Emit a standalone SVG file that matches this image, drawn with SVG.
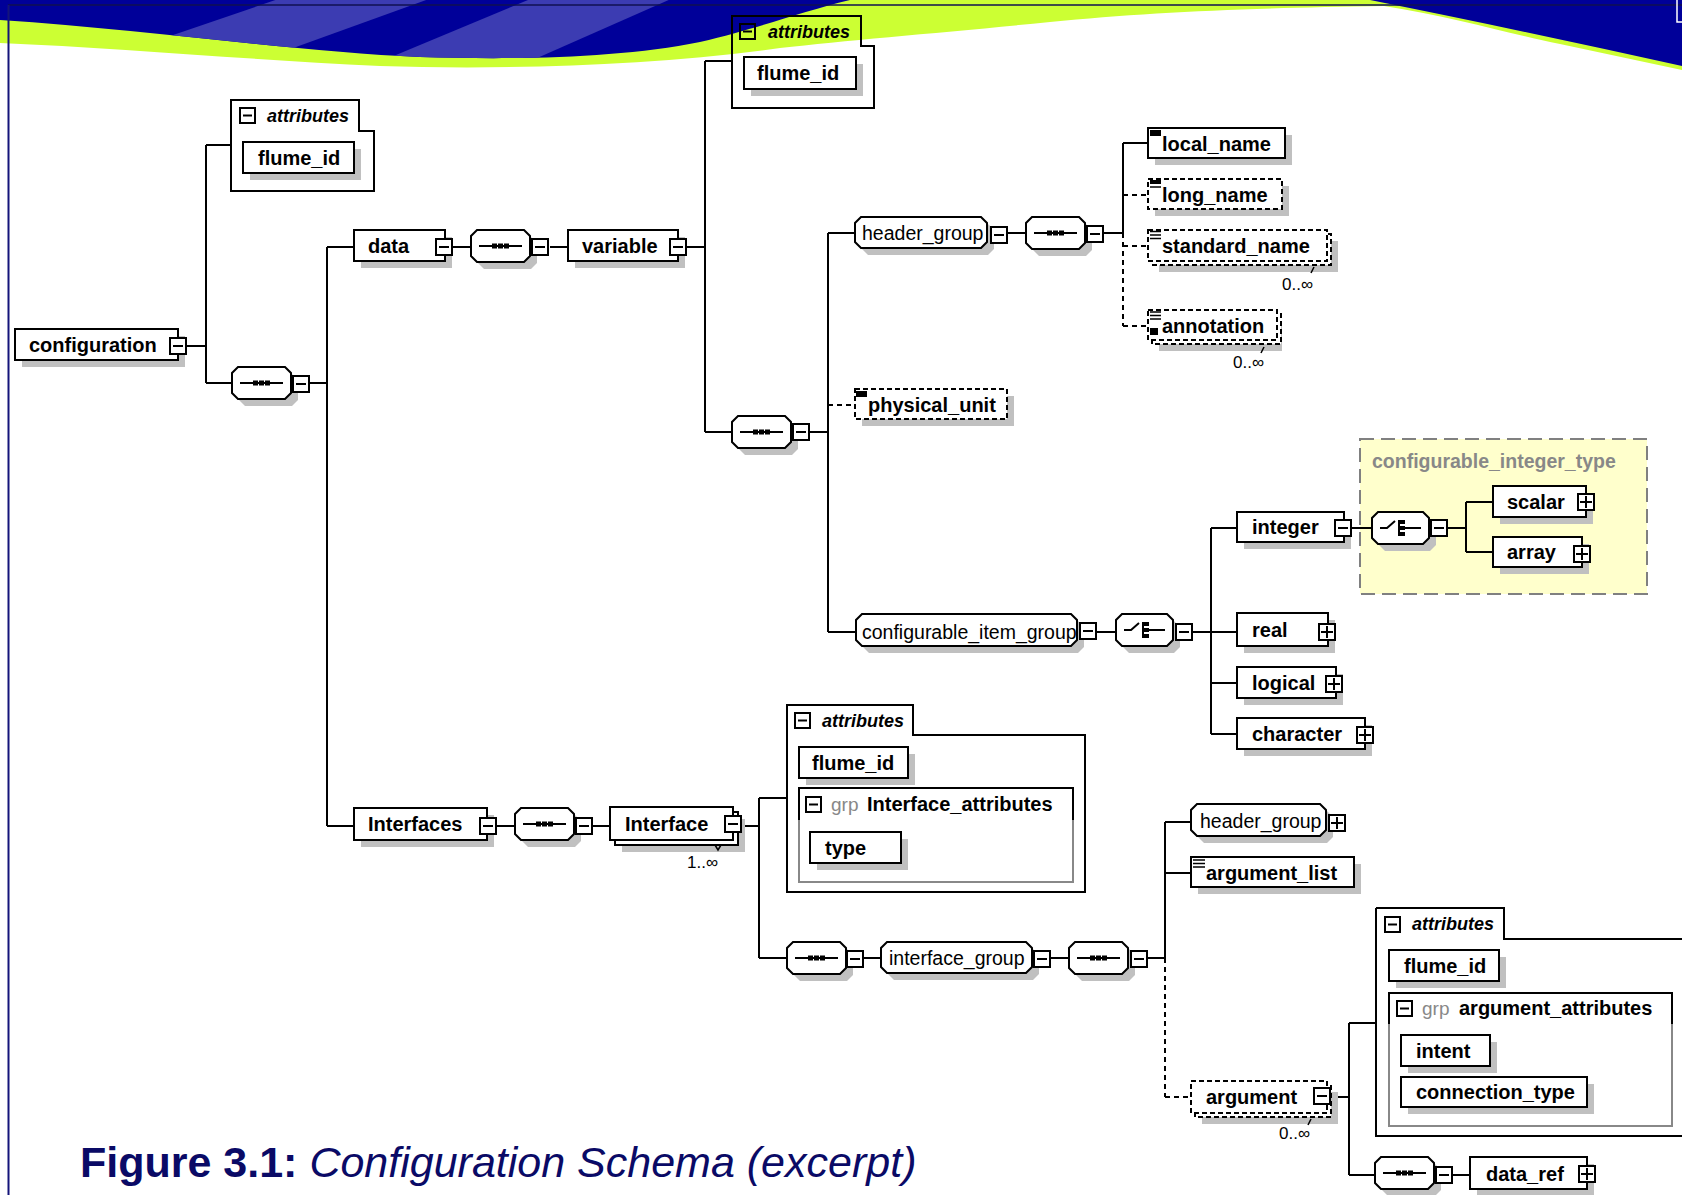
<svg xmlns="http://www.w3.org/2000/svg" xmlns:xlink="http://www.w3.org/1999/xlink" width="1682" height="1195" viewBox="0 0 1682 1195">
<style>
.box{fill:#fff;stroke:#000;stroke-width:2}
.dbox{fill:#fff;stroke:#000;stroke-width:2;stroke-dasharray:5,3}
.sh{fill:#c0c0c0}
.ln{stroke:#000;stroke-width:2;fill:none}
.dl{stroke:#000;stroke-width:2;fill:none;stroke-dasharray:5,4}
.cont{fill:none;stroke:#000;stroke-width:2}
.t{font-family:"Liberation Sans",Arial,sans-serif;font-weight:bold;font-size:20px;fill:#000}
.tr{font-family:"Liberation Sans",Arial,sans-serif;font-size:19.5px;fill:#000}
.ti{font-family:"Liberation Sans",Arial,sans-serif;font-weight:bold;font-style:italic;font-size:18px;fill:#000}
.tg{font-family:"Liberation Sans",Arial,sans-serif;font-size:19px;fill:#888}
.tgb{font-family:"Liberation Sans",Arial,sans-serif;font-weight:bold;font-size:19.5px;fill:#888}
.tc{font-family:"Liberation Sans",Arial,sans-serif;font-size:17px;fill:#000}
.cap{font-family:"Liberation Sans",Arial,sans-serif;font-size:43px;fill:#0a0a66}
</style>
<defs>
<g id="minus"><rect x="1" y="1" width="16" height="16" fill="#fff" stroke="#000" stroke-width="2"/><path d="M4,9 H14" stroke="#000" stroke-width="2"/></g>
<g id="plus"><rect x="1" y="1" width="16" height="16" fill="#fff" stroke="#000" stroke-width="2"/><path d="M3,9 H15 M9,3 V15" stroke="#000" stroke-width="2"/></g>
<g id="cminus"><rect x="1" y="1" width="15" height="15" fill="none" stroke="#000" stroke-width="2"/><path d="M4,8.5 H13" stroke="#000" stroke-width="2"/></g>
<g id="seq"><path class="sh" d="M13,7 H60 L66,13 V33 L60,39 H13 L7,33 V13 Z"/><path class="box" d="M6,0 H53 L59,6 V26 L53,32 H6 L0,26 V6 Z"/><path d="M8,16 H51" stroke="#000" stroke-width="2"/><rect x="21" y="13.5" width="5" height="5"/><rect x="27" y="13.5" width="5" height="5"/><rect x="33" y="13.5" width="5" height="5"/></g>
<g id="choice"><path class="sh" d="M13,7 H58 L64,13 V33 L58,39 H13 L7,33 V13 Z"/><path class="box" d="M6,0 H51 L57,6 V26 L51,32 H6 L0,26 V6 Z"/><path d="M8,16 H15 L23,9 M27,8 V24 M27,16 H49" stroke="#000" stroke-width="2" fill="none"/><rect x="28" y="8" width="5" height="4"/><rect x="28" y="14" width="5" height="4"/><rect x="28" y="20" width="5" height="4"/></g>
<clipPath id="cb"><path d="M0,0 H850 C800,12 760,28 700,42 C620,58 520,60 420,57 C300,52 150,30 0,20 Z"/></clipPath>
</defs>
<rect x="0" y="0" width="1682" height="1195" fill="#fff"/>
<g id="header">
<path fill="#ccff33" d="M0,0 H1682 V70 L1560,44 C1510,34 1450,16 1384,6 C1250,8 1150,12 1050,22 C950,32 850,40 780,48 C650,66 500,70 380,66 C250,60 120,48 0,43 Z"/>
<path fill="#000099" d="M0,0 H850 C800,12 760,28 700,42 C620,58 520,60 420,57 C300,52 150,30 0,20 Z"/>
<g clip-path="url(#cb)"><path fill="#3c3cb2" d="M100,60 L290,-5 L440,-5 L260,60 Z"/><path fill="#3c3cb2" d="M360,70 L540,-5 L680,-5 L510,70 Z"/></g>
<path fill="#000099" d="M1370,0 H1682 V66 Q1520,30 1370,0 Z"/>
<path d="M8,5 H1682" stroke="#101050" stroke-width="1.5"/>
<path d="M8.5,5 V1195" stroke="#14147a" stroke-width="2"/>
<path d="M1677,0 V22 H1682" stroke="#fff" stroke-width="1.5" fill="none"/>
</g>
<rect id="cit-box" x="1360" y="439" width="287" height="155" fill="#ffffcc" stroke="#808080" stroke-width="2" stroke-dasharray="14,7"/>
<g id="connectors">
<path class="ln" d="M187,346 H206 M206,145 V383 M206,145 H231 M206,383 H232 M309,383 H327 M327,247 V826 M327,247 H354 M452,247 H471 M550,247 H568 M686,247 H705 M705,61 V432 M705,61 H732 M705,432 H732 M810,432 H828 M828,233 V632 M828,233 H855 M828,632 H856 M1007,233 H1026 M1103,233 H1123 M1123,143 V233 M1123,143 H1148 M1097,632 H1116 M1192,632 H1211 M1211,528 V734 M1211,528 H1237 M1211,632 H1237 M1211,683 H1237 M1211,734 H1237 M1352,528 H1372 M1447,528 H1466 M1466,502 V552 M1466,502 H1493 M1466,552 H1493 M327,826 H354 M496,826 H515 M591,826 H610 M741,826 H759 M759,798 V958 M759,798 H787 M759,958 H787 M862,958 H881 M1051,958 H1069 M1147,958 H1165 M1165,822 V958 M1165,822 H1191 M1165,873 H1191 M1331,1097 H1349 M1349,1023 V1175 M1349,1023 H1376 M1349,1175 H1375 M1453,1175 H1470"/>
<path class="dl" d="M828,405 H855 M1123,233 V326 M1123,195 H1148 M1123,246 H1148 M1123,326 H1148 M1165,958 V1097 M1165,1097 H1191"/>
</g>
<g id="configuration"><rect class="sh" x="22" y="336" width="163" height="31"/><rect class="box" x="15" y="329" width="163" height="31"/><text class="t" x="29" y="352">configuration</text><use href="#minus" x="169" y="337"/></g>
<g id="attrs1"><path class="cont" d="M231,100 H359 V131 H374 V191 H231 Z"/><use href="#cminus" x="239" y="107"/><text class="ti" x="267" y="122">attributes</text><rect class="sh" x="250" y="149" width="111" height="31"/><rect class="box" x="243" y="142" width="111" height="31"/><text class="t" x="258" y="165">flume_id</text></g>
<use id="seq1" href="#seq" x="232" y="367"/>
<use id="seq1-icon" href="#minus" x="292" y="375"/>
<g id="data"><rect class="sh" x="361" y="237" width="91" height="31"/><rect class="box" x="354" y="230" width="91" height="31"/><text class="t" x="368" y="253">data</text><use href="#minus" x="435" y="238"/></g>
<g id="seq2"><use href="#seq" x="471" y="230"/><use href="#minus" x="531" y="238"/></g>
<g id="variable"><rect class="sh" x="575" y="237" width="110" height="31"/><rect class="box" x="568" y="230" width="110" height="31"/><text class="t" x="582" y="253">variable</text><use href="#minus" x="669" y="238"/></g>
<g id="attrsTop"><path class="cont" d="M732,16 H861 V46 H874 V108 H732 Z"/><use href="#cminus" x="739" y="23"/><text class="ti" x="768" y="38">attributes</text><rect class="sh" x="751" y="64" width="112" height="32"/><rect class="box" x="744" y="57" width="112" height="32"/><text class="t" x="757" y="80">flume_id</text></g>
<g id="seq3"><use href="#seq" x="732" y="416"/><use href="#minus" x="792" y="423"/></g>
<g id="header_group"><path class="sh" d="M868,224 H988 L994,230 V249 L988,255 H868 L862,249 V230 Z"/><path class="box" d="M861,217 H981 L987,223 V242 L981,248 H861 L855,242 V223 Z"/><text class="tr" x="862" y="240">header_group</text><use href="#minus" x="990" y="226"/></g>
<g id="seq4"><use href="#seq" x="1026" y="217"/><use href="#minus" x="1086" y="225"/></g>
<g id="local_name"><rect class="sh" x="1155" y="135" width="137" height="30"/><rect class="box" x="1148" y="128" width="137" height="30"/><rect x="1150" y="130" width="11" height="6"/><text class="t" x="1162" y="151">local_name</text></g>
<g id="long_name"><rect class="sh" x="1155" y="186" width="134" height="30"/><rect class="dbox" x="1148" y="179" width="134" height="30"/><rect x="1150" y="180" width="11" height="4"/><path d="M1150,187 H1161" stroke="#000" stroke-width="1.5"/><text class="t" x="1162" y="202">long_name</text></g>
<g id="standard_name"><rect class="sh" x="1159" y="241" width="179" height="31"/><rect class="dbox" x="1152" y="234" width="179" height="31"/><rect class="dbox" x="1148" y="230" width="179" height="31"/><path d="M1150,231.5 H1161 M1150,235 H1161 M1150,238.5 H1161" stroke="#000" stroke-width="1.5"/><text class="t" x="1162" y="253">standard_name</text><path d="M1314,267 L1311,273" stroke="#000" stroke-width="1.5"/><text class="tc" x="1282" y="290">0..∞</text></g>
<g id="annotation"><rect class="sh" x="1159" y="321" width="123" height="30"/><rect class="dbox" x="1152" y="314" width="129" height="30"/><rect class="dbox" x="1148" y="310" width="129" height="30"/><path d="M1150,312 H1161 M1150,315.5 H1161 M1150,319 H1161" stroke="#000" stroke-width="1.5"/><rect x="1150" y="328" width="8" height="7"/><text class="t" x="1162" y="333">annotation</text><path d="M1264,347 L1261,353" stroke="#000" stroke-width="1.5"/><text class="tc" x="1233" y="368">0..∞</text></g>
<g id="physical_unit"><rect class="sh" x="862" y="396" width="152" height="30"/><rect class="dbox" x="855" y="389" width="152" height="30"/><rect x="856" y="391" width="11" height="6"/><text class="t" x="868" y="412">physical_unit</text></g>
<g id="configurable_item_group"><path class="sh" d="M869,621 H1078 L1084,627 V647 L1078,653 H869 L863,647 V627 Z"/><path class="box" d="M862,614 H1071 L1077,620 V640 L1071,646 H862 L856,640 V620 Z"/><text class="tr" x="862" y="639">configurable_item_group</text><use href="#minus" x="1079" y="622"/></g>
<g id="choice1"><use href="#choice" x="1116" y="614"/><use href="#minus" x="1175" y="623"/></g>
<g id="integer"><rect class="sh" x="1244" y="519" width="107" height="30"/><rect class="box" x="1237" y="512" width="107" height="30"/><text class="t" x="1252" y="534">integer</text><use href="#minus" x="1334" y="519"/></g>
<g id="choice2"><use href="#choice" x="1372" y="512"/><use href="#minus" x="1430" y="519"/></g>
<text id="cit-label" class="tgb" x="1372" y="468">configurable_integer_type</text>
<g id="scalar"><rect class="sh" x="1500" y="493" width="93" height="31"/><rect class="box" x="1493" y="486" width="93" height="31"/><text class="t" x="1507" y="509">scalar</text><use href="#plus" x="1577" y="493"/></g>
<g id="array"><rect class="sh" x="1500" y="544" width="89" height="30"/><rect class="box" x="1493" y="537" width="89" height="30"/><text class="t" x="1507" y="559">array</text><use href="#plus" x="1573" y="545"/></g>
<g id="real"><rect class="sh" x="1244" y="620" width="91" height="33"/><rect class="box" x="1237" y="613" width="91" height="33"/><text class="t" x="1252" y="637">real</text><use href="#plus" x="1318" y="623"/></g>
<g id="logical"><rect class="sh" x="1244" y="674" width="99" height="31"/><rect class="box" x="1237" y="667" width="99" height="31"/><text class="t" x="1252" y="690">logical</text><use href="#plus" x="1325" y="675"/></g>
<g id="character"><rect class="sh" x="1244" y="725" width="128" height="31"/><rect class="box" x="1237" y="718" width="128" height="31"/><text class="t" x="1252" y="741">character</text><use href="#plus" x="1356" y="726"/></g>
<g id="Interfaces"><rect class="sh" x="361" y="815" width="133" height="32"/><rect class="box" x="354" y="808" width="133" height="32"/><text class="t" x="368" y="831">Interfaces</text><use href="#minus" x="479" y="817"/></g>
<g id="seq5"><use href="#seq" x="515" y="808"/><use href="#minus" x="575" y="817"/></g>
<g id="Interface"><rect class="sh" x="622" y="819" width="123" height="33"/><rect class="box" x="615" y="812" width="123" height="33"/><rect class="box" x="610" y="807" width="123" height="33"/><text class="t" x="625" y="831">Interface</text><use href="#minus" x="724" y="815"/><path d="M715,845 L718,850 L721,845" stroke="#000" stroke-width="1.5" fill="none"/><text class="tc" x="687" y="868">1..∞</text></g>
<g id="attrs3"><path class="cont" d="M787,705 H913 V735 H1085 V892 H787 Z"/><use href="#cminus" x="794" y="712"/><text class="ti" x="822" y="727">attributes</text><rect class="sh" x="806" y="754" width="109" height="31"/><rect class="box" x="799" y="747" width="109" height="31"/><text class="t" x="812" y="770">flume_id</text><path d="M799,820 V882 H1073 V820" fill="none" stroke="#888" stroke-width="2"/><path d="M799,820 V788 H1073 V820" fill="none" stroke="#000" stroke-width="2"/><use href="#cminus" x="805" y="796"/><text class="tg" x="831" y="811">grp</text><text class="t" x="867" y="811">Interface_attributes</text><rect class="sh" x="817" y="839" width="91" height="31"/><rect class="box" x="810" y="832" width="91" height="31"/><text class="t" x="825" y="855">type</text></g>
<g id="seq6"><use href="#seq" x="787" y="942"/><use href="#minus" x="846" y="950"/></g>
<g id="interface_group"><path class="sh" d="M894,949 H1033 L1039,955 V974 L1033,980 H894 L888,974 V955 Z"/><path class="box" d="M887,942 H1026 L1032,948 V967 L1026,973 H887 L881,967 V948 Z"/><text class="tr" x="889" y="965">interface_group</text><use href="#minus" x="1033" y="950"/></g>
<g id="seq7"><use href="#seq" x="1069" y="942"/><use href="#minus" x="1130" y="950"/></g>
<g id="header_group2"><path class="sh" d="M1204,811 H1327 L1333,817 V837 L1327,843 H1204 L1198,837 V817 Z"/><path class="box" d="M1197,804 H1320 L1326,810 V830 L1320,836 H1197 L1191,830 V810 Z"/><text class="tr" x="1200" y="828">header_group</text><use href="#plus" x="1328" y="814"/></g>
<g id="argument_list"><rect class="sh" x="1198" y="864" width="163" height="30"/><rect class="box" x="1191" y="857" width="163" height="30"/><path d="M1193,860 H1205 M1193,863.5 H1205 M1193,867 H1205" stroke="#000" stroke-width="1.5"/><text class="t" x="1206" y="880">argument_list</text></g>
<g id="argument"><rect class="sh" x="1202" y="1092" width="136" height="32"/><rect class="dbox" x="1195" y="1085" width="136" height="32"/><rect class="dbox" x="1191" y="1081" width="136" height="32"/><text class="t" x="1206" y="1104">argument</text><use href="#minus" x="1313" y="1087"/><path d="M1311,1119 L1308,1125" stroke="#000" stroke-width="1.5"/><text class="tc" x="1279" y="1139">0..∞</text></g>
<g id="attrs4"><path class="cont" d="M1376,908 H1504 V939 H1690 M1690,1136 H1376 V908"/><use href="#cminus" x="1384" y="916"/><text class="ti" x="1412" y="930">attributes</text><rect class="sh" x="1396" y="957" width="110" height="31"/><rect class="box" x="1389" y="950" width="110" height="31"/><text class="t" x="1404" y="973">flume_id</text><path d="M1389,1024 V1126 H1672 V1024" fill="none" stroke="#888" stroke-width="2"/><path d="M1389,1024 V993 H1672 V1024" fill="none" stroke="#000" stroke-width="2"/><use href="#cminus" x="1396" y="1000"/><text class="tg" x="1422" y="1015">grp</text><text class="t" x="1459" y="1015">argument_attributes</text><rect class="sh" x="1408" y="1042" width="89" height="31"/><rect class="box" x="1401" y="1035" width="89" height="31"/><text class="t" x="1416" y="1058">intent</text><rect class="sh" x="1408" y="1084" width="186" height="30"/><rect class="box" x="1401" y="1077" width="186" height="30"/><text class="t" x="1416" y="1099">connection_type</text></g>
<g id="seq8"><use href="#seq" x="1375" y="1157"/><use href="#minus" x="1435" y="1166"/></g>
<g id="data_ref"><rect class="sh" x="1477" y="1164" width="117" height="32"/><rect class="box" x="1470" y="1157" width="117" height="32"/><text class="t" x="1486" y="1181">data_ref</text><use href="#plus" x="1578" y="1165"/></g>
<text id="caption" class="cap" x="80" y="1177"><tspan font-weight="bold">Figure 3.1:</tspan> <tspan font-style="italic">Configuration Schema (excerpt)</tspan></text>
</svg>
